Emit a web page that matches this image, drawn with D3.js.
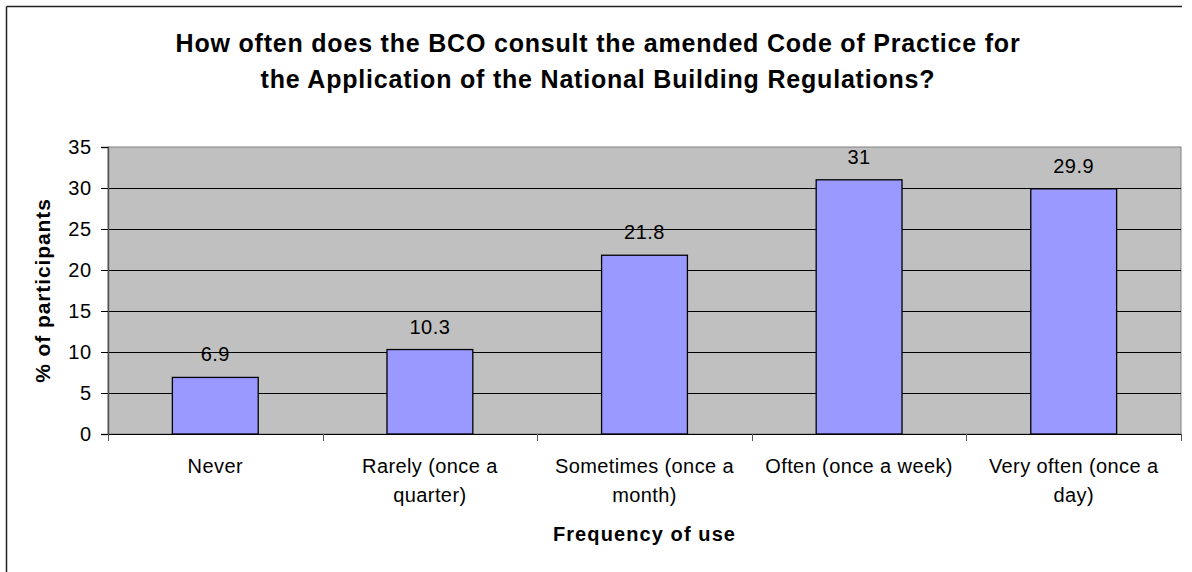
<!DOCTYPE html>
<html>
<head>
<meta charset="utf-8">
<script src="https://cdn.jsdelivr.net/npm/d3@7"></script>
<style>
  html, body { margin: 0; padding: 0; background: #fff; }
  svg { display: block; font-family: "Liberation Sans", Arial, sans-serif; }
</style>
</head>
<body>
<svg id="chart" width="1192" height="572"></svg>
<script>
// Survey responses: frequency of consulting the Code of Practice
const categories = [
  ["Never"],
  ["Rarely (once a", "quarter)"],
  ["Sometimes (once a", "month)"],
  ["Often (once a week)"],
  ["Very often (once a", "day)"]
];
const values = [6.9, 10.3, 21.8, 31, 29.9];
const yTicks = [0, 5, 10, 15, 20, 25, 30, 35];
const titleLines = [
  "How often does the BCO consult the amended Code of Practice for",
  "the Application of the National Building Regulations?"
];
const xTitle = "Frequency of use";
const yTitle = "% of participants";

const svg = d3.select("#chart");
const W = 1192, H = 572;
const plot = { left: 108, right: 1181, top: 147, bottom: 434 };

// Chart-area outline (top and left edges visible)
svg.append("line").attr("x1", 6.5).attr("x2", 1182).attr("y1", 6.5).attr("y2", 6.5)
  .attr("stroke", "#222").attr("stroke-width", 1.5);
svg.append("line").attr("x1", 6.5).attr("x2", 6.5).attr("y1", 6.5).attr("y2", H)
  .attr("stroke", "#222").attr("stroke-width", 1.5);

const ids = categories.map((_, i) => i);
const x = d3.scaleBand().domain(ids).range([plot.left, plot.right]).padding(0);
const y = d3.scaleLinear().domain([0, 35]).range([plot.bottom, plot.top]);

// Plot background
svg.append("rect")
  .attr("x", plot.left).attr("y", plot.top)
  .attr("width", plot.right - plot.left).attr("height", plot.bottom - plot.top)
  .attr("fill", "#c0c0c0")
  .attr("stroke", "#808080").attr("stroke-width", 1);

// Horizontal gridlines
svg.append("g").selectAll("line")
  .data(yTicks.filter(t => t > 0 && t < 35))
  .join("line")
  .attr("x1", plot.left).attr("x2", plot.right)
  .attr("y1", d => Math.round(y(d)) + 0.5).attr("y2", d => Math.round(y(d)) + 0.5)
  .attr("stroke", "#000").attr("stroke-width", 1);

// Bars
const barW = x.bandwidth() * 0.4;
svg.append("g").selectAll("rect")
  .data(values)
  .join("rect")
  .attr("x", (d, i) => x(i) + (x.bandwidth() - barW) / 2)
  .attr("y", d => y(d))
  .attr("width", barW)
  .attr("height", d => y(0) - y(d))
  .attr("fill", "#9999ff")
  .attr("stroke", "#000").attr("stroke-width", 1.3);

// Value labels
svg.append("g").selectAll("text")
  .data(values)
  .join("text")
  .attr("x", (d, i) => x(i) + x.bandwidth() / 2)
  .attr("y", d => y(d) - 16)
  .attr("text-anchor", "middle")
  .attr("font-size", 20)
  .attr("letter-spacing", 0.5)
  .attr("fill", "#000")
  .text(d => String(d));

// Y axis
const yAxis = d3.axisLeft(y).tickValues(yTicks).tickSize(7).tickPadding(9);
const gy = svg.append("g").attr("transform", `translate(${plot.left},0)`).call(yAxis);
gy.select(".domain").attr("stroke", "#555").attr("stroke-width", 1.5);
gy.selectAll(".tick line").attr("stroke", "#000");
gy.selectAll(".tick text").attr("font-size", 20).attr("letter-spacing", 0.8)
  .attr("font-family", "Liberation Sans, Arial, sans-serif").attr("fill", "#000");

// X axis line with boundary ticks
svg.append("line").attr("x1", plot.left).attr("x2", plot.right)
  .attr("y1", plot.bottom + 0.5).attr("y2", plot.bottom + 0.5)
  .attr("stroke", "#000").attr("stroke-width", 1);
const bounds = ids.map(i => x(i)).concat([plot.right]);
svg.append("g").selectAll("line")
  .data(bounds)
  .join("line")
  .attr("x1", d => Math.round(d) + 0.5).attr("x2", d => Math.round(d) + 0.5)
  .attr("y1", plot.bottom).attr("y2", plot.bottom + 7)
  .attr("stroke", "#555").attr("stroke-width", 1);

// Category labels
const catG = svg.append("g");
categories.forEach((lines, i) => {
  const t = catG.append("text")
    .attr("x", x(i) + x.bandwidth() / 2)
    .attr("y", 473)
    .attr("text-anchor", "middle")
    .attr("font-size", 20)
    .attr("letter-spacing", 0.4)
    .attr("fill", "#000");
  lines.forEach((ln, k) => {
    t.append("tspan").attr("x", x(i) + x.bandwidth() / 2).attr("dy", k === 0 ? 0 : 29).text(ln);
  });
});

// Titles
const title = svg.append("text")
  .attr("text-anchor", "middle")
  .attr("font-size", 25).attr("font-weight", "bold").attr("letter-spacing", 0.8)
  .attr("fill", "#000");
titleLines.forEach((ln, k) => {
  title.append("tspan").attr("x", 598).attr("y", 52 + k * 36).text(ln);
});

svg.append("text")
  .attr("x", (plot.left + plot.right) / 2).attr("y", 541)
  .attr("text-anchor", "middle")
  .attr("font-size", 20).attr("font-weight", "bold").attr("letter-spacing", 1.1)
  .text(xTitle);

svg.append("text")
  .attr("transform", `translate(50,${(plot.top + plot.bottom) / 2}) rotate(-90)`)
  .attr("text-anchor", "middle")
  .attr("font-size", 21).attr("font-weight", "bold").attr("letter-spacing", 0.9)
  .text(yTitle);
</script>
</body>
</html>
